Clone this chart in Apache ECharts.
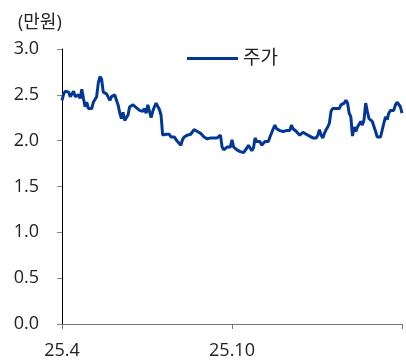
<!DOCTYPE html>
<html>
<head>
<meta charset="utf-8">
<script src="https://cdn.jsdelivr.net/npm/echarts@6/dist/echarts.min.js"></script>
<style>
html,body{margin:0;padding:0;background:#fff;}
#chart{width:406px;height:361px;}
</style>
</head>
<body>
<div id="chart"></div>
<script>
const seriesName = '주가';
const unitLabel = '(만원)';
const tickLabels = ['25.4', '25.10', ''];
const yTicks = [0, 0.5, 1.0, 1.5, 2.0, 2.5, 3.0];

const priceApr = [2.44, 2.51, 2.54, 2.55, 2.53, 2.48, 2.50, 2.54, 2.48, 2.46, 2.50, 2.46, 2.56, 2.46, 2.37, 2.42, 2.35, 2.33, 2.35, 2.42, 2.44, 2.48, 2.63, 2.70, 2.67, 2.53, 2.55, 2.51, 2.50, 2.44, 2.48, 2.46, 2.50, 2.44, 2.39, 2.30];
const priceJun = [2.24, 2.31, 2.22, 2.22, 2.28, 2.37, 2.35, 2.39, 2.38, 2.36, 2.34, 2.33, 2.35, 2.32, 2.35, 2.30, 2.39, 2.32, 2.25, 2.32, 2.37, 2.41, 2.39, 2.34, 2.28, 2.06, 2.06, 2.07, 2.06, 2.07, 2.04, 2.06, 2.04, 2.02, 1.99, 1.97];
const priceAug = [1.95, 2.01, 2.04, 2.04, 2.06, 2.05, 2.07, 2.08, 2.12, 2.13, 2.10, 2.08, 2.08, 2.06, 2.04, 2.03, 2.02, 2.00, 2.03, 2.02, 2.03, 2.02, 2.03, 2.02, 2.06, 1.93, 1.90, 1.92, 1.93, 1.95, 1.93, 2.01, 1.93, 1.91, 1.90, 1.89, 1.88];
const priceOct = [1.89, 1.87, 1.89, 1.92, 1.95, 1.92, 1.89, 1.92, 2.03, 1.99, 1.97, 1.99, 1.95, 1.96, 1.99, 1.97, 1.99, 2.04, 2.03, 2.13, 2.17, 2.13, 2.15, 2.11, 2.13, 2.10, 2.12, 2.11, 2.12, 2.11, 2.17, 2.13, 2.12, 2.10, 2.08, 2.06];
const priceDec = [2.08, 2.09, 2.08, 2.07, 2.06, 2.05, 2.04, 2.03, 2.04, 2.03, 2.06, 2.12, 2.06, 2.03, 2.08, 2.12, 2.15, 2.19, 2.32, 2.35, 2.34, 2.35, 2.35, 2.35, 2.39, 2.38, 2.41, 2.44, 2.41, 2.30, 2.26, 2.05, 2.15, 2.10, 2.15, 2.17, 2.21];
const priceFeb = [2.17, 2.23, 2.41, 2.32, 2.24, 2.23, 2.21, 2.19, 2.10, 2.04, 2.03, 2.04, 2.06, 2.19, 2.26, 2.23, 2.30, 2.33, 2.35, 2.33, 2.39, 2.42, 2.41, 2.37, 2.30];

const prices = [].concat(priceApr, priceJun, priceAug, priceOct, priceDec, priceFeb);
const N = prices.length;
const categories = prices.map((_, i) => String(i));
const tickIdx = [0, Math.floor((N - 1) / 2), N - 1];

const chart = echarts.init(document.getElementById('chart'), null, {renderer: 'canvas'});
const font = '"Open Sans", "Noto Sans CJK KR", sans-serif';
chart.setOption({
  animation: false,
  title: {
    text: unitLabel,
    left: 13, top: 9,
    textStyle: {fontFamily: font, fontSize: 18, fontWeight: 'normal', color: '#222'}
  },
  legend: {
    data: [seriesName],
    left: 182, top: 44,
    itemWidth: 51, itemHeight: 3, itemGap: 6,
    icon: 'rect',
    textStyle: {fontFamily: font, fontSize: 19, color: '#222'}
  },
  grid: {left: 62, right: 4, top: 49, bottom: 37, containLabel: false},
  xAxis: {
    type: 'category',
    data: categories,
    boundaryGap: false,
    axisLine: {lineStyle: {color: '#777', width: 1}},
    axisTick: {
      length: 5, lineStyle: {color: '#777'},
      interval: (i) => tickIdx.indexOf(i) >= 0
    },
    axisLabel: {
      interval: (i) => tickIdx.indexOf(i) >= 0,
      formatter: (v, i) => { const k = tickIdx.indexOf(i); return k >= 0 ? tickLabels[k] : ''; },
      fontFamily: font, fontSize: 18, color: '#222', margin: 18
    },
    splitLine: {show: false}
  },
  yAxis: {
    type: 'value',
    min: yTicks[0], max: yTicks[yTicks.length - 1], interval: 0.5,
    axisLine: {show: true, lineStyle: {color: '#000', width: 1}},
    axisTick: {show: true, length: 5, lineStyle: {color: '#888'}},
    axisLabel: {
      formatter: (v) => v.toFixed(1),
      fontFamily: font, fontSize: 18, color: '#222', margin: 23,
      padding: [6, 0, 0, 0]
    },
    splitLine: {show: false}
  },
  series: [{
    name: seriesName,
    type: 'line',
    data: prices,
    symbol: 'none',
    lineStyle: {color: '#023894', width: 3},
    itemStyle: {color: '#023894'}
  }]
});
</script>
</body>
</html>
